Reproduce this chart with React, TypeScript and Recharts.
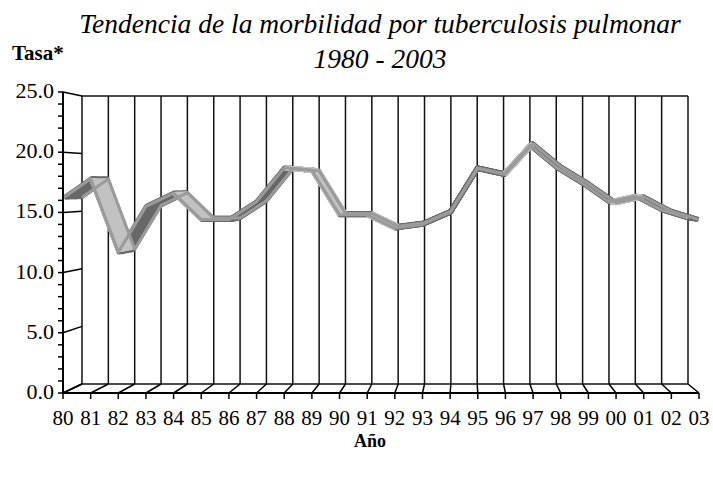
import { CartesianGrid, Line, LineChart, XAxis, YAxis } from "recharts";

const years = ["80", "81", "82", "83", "84", "85", "86", "87", "88", "89", "90", "91", "92", "93", "94", "95", "96", "97", "98", "99", "00", "01", "02", "03"];
const tasa = [16.2, 17.8, 11.7, 15.5, 16.6, 14.4, 14.4, 15.9, 18.7, 18.5, 14.8, 14.8, 13.7, 14.0, 15.0, 18.7, 18.2, 20.7, 18.8, 17.4, 15.8, 16.3, 15.1, 14.4];
const yTicks = [0, 1, 2, 3, 4, 5, 6, 7, 8, 9, 10, 11, 12, 13, 14, 15, 16, 17, 18, 19, 20, 21, 22, 23, 24, 25];
const yMajor = [0, 5, 10, 15, 20, 25];

const W = 713;
const H = 480;
// front plane (axes) and back wall of the 3d box
const FRONT = { left: 63, right: 699, top: 92, bottom: 393 };
const BACK = { left: 82, right: 688, top: 96, bottom: 384 };
const YW = 60;
const XH = 40;
const FONT = '"Liberation Serif", "Times New Roman", serif';
const EDGE = "#9a9a9a";
const DARK = "#686868";
const LIGHT = "#c2c2c2";
const faceDepths = [0.92, 0.84, 0.76, 0.68, 0.6, 0.52, 0.44, 0.36, 0.28, 0.2, 0.12, 0.04];

const lerpBox = (t: number) => ({
  left: FRONT.left + (BACK.left - FRONT.left) * t,
  right: FRONT.right + (BACK.right - FRONT.right) * t,
  top: FRONT.top + (BACK.top - FRONT.top) * t,
  bottom: FRONT.bottom + (BACK.bottom - FRONT.bottom) * t,
});
const toBackX = (x: number) =>
  BACK.left + ((x - FRONT.left) * (BACK.right - BACK.left)) / (FRONT.right - FRONT.left);
const toBackY = (y: number) =>
  BACK.top + ((y - FRONT.top) * (BACK.bottom - BACK.top)) / (FRONT.bottom - FRONT.top);

// rows, plus masked copies of the values for the ribbon faces that show their light side
const n = years.length;
const data: Record<string, string | number | null>[] = years.map((year, i) => ({
  year,
  tasa: tasa[i],
  light0: null,
  light1: null,
  light2: null,
}));
for (let i = 0; i < n - 1; i++) {
  const shift =
    BACK.left - FRONT.left +
    ((i + 0.5) / (n - 1)) * (BACK.right - BACK.left - (FRONT.right - FRONT.left));
  const falling = tasa[i + 1] < tasa[i];
  if (falling === shift > 0) {
    const key = "light" + (i % 3);
    data[i][key] = tasa[i];
    data[i + 1][key] = tasa[i + 1];
  }
}

function XTick({ x, payload }: any) {
  const y0 = FRONT.bottom;
  return (
    <g>
      <line x1={x} y1={y0} x2={toBackX(x)} y2={BACK.bottom} stroke="#000" strokeWidth={1.5} />
      <line x1={x} y1={y0} x2={x} y2={y0 + 6} stroke="#000" strokeWidth={1.5} />
      <text x={x} y={425} textAnchor="middle" fontFamily={FONT} fontSize={21} fill="#000">
        {payload.value}
      </text>
    </g>
  );
}

function YTick({ y, payload }: any) {
  const v = payload.value;
  const major = yMajor.includes(v);
  const x0 = FRONT.left;
  return (
    <g>
      <line x1={x0 - 5} y1={y} x2={x0} y2={y} stroke="#000" strokeWidth={1.5} />
      {major && <line x1={x0} y1={y} x2={BACK.left} y2={toBackY(y)} stroke="#000" strokeWidth={1.5} />}
      {major && (
        <text x={x0 - 9} y={y} dy={6} textAnchor="end" fontFamily={FONT} fontSize={22} fill="#000">
          {v.toFixed(1)}
        </text>
      )}
    </g>
  );
}

const layerStyle = { position: "absolute" as const, left: 0, top: 0 };

function boxMargin(t: number) {
  const b = lerpBox(t);
  return { left: b.left, right: W - b.right, top: b.top, bottom: H - b.bottom };
}

function faceLayer(t: number, keys: string[], color: string) {
  return (
    <div key={color + t} style={layerStyle}>
      <LineChart width={W} height={H} data={data} margin={boxMargin(t)}>
        <XAxis dataKey="year" hide interval={0} />
        <YAxis domain={[0, 25]} hide />
        {keys.map((k) => (
          <Line
            key={k}
            dataKey={k}
            stroke={color}
            strokeWidth={5}
            strokeLinejoin="round"
            dot={false}
            activeDot={false}
            isAnimationActive={false}
          />
        ))}
      </LineChart>
    </div>
  );
}

export default function App() {
  return (
    <div style={{ position: "absolute", left: 0, top: 0, width: W, height: H, background: "#fff", fontFamily: FONT }}>
      {/* back wall */}
      <div style={layerStyle}>
        <LineChart width={W} height={H} data={data} margin={boxMargin(1)}>
          <CartesianGrid stroke="#111" strokeWidth={1.5} />
          <XAxis dataKey="year" hide interval={0} />
          <YAxis domain={[0, 25]} ticks={yMajor} hide />
        </LineChart>
      </div>

      {/* ribbon faces: dark side first, then light side on top */}
      {faceDepths.map((t) => faceLayer(t, ["tasa"], DARK))}
      {faceDepths.map((t) => faceLayer(t, ["light0", "light1", "light2"], LIGHT))}

      {/* back edge of the ribbon */}
      <div style={layerStyle}>
        <LineChart width={W} height={H} data={data} margin={boxMargin(1)}>
          <XAxis dataKey="year" hide interval={0} />
          <YAxis domain={[0, 25]} hide />
          <Line dataKey="tasa" stroke={EDGE} strokeWidth={3} strokeLinejoin="round" dot={false} activeDot={false} isAnimationActive={false} />
        </LineChart>
      </div>

      {/* front plane with axes */}
      <div style={layerStyle}>
        <LineChart
          width={W}
          height={H}
          data={data}
          margin={{ left: FRONT.left - YW, right: W - FRONT.right, top: FRONT.top, bottom: H - FRONT.bottom - XH }}
        >
          <XAxis
            dataKey="year"
            interval={0}
            height={XH}
            tickLine={false}
            axisLine={{ stroke: "#000", strokeWidth: 2 }}
            tick={(p: any) => <XTick {...p} />}
          />
          <YAxis
            domain={[0, 25]}
            ticks={yTicks}
            interval={0}
            width={YW}
            tickLine={false}
            axisLine={{ stroke: "#000", strokeWidth: 2 }}
            tick={(p: any) => <YTick {...p} />}
          />
          <Line dataKey="tasa" stroke={EDGE} strokeWidth={3} strokeLinejoin="round" dot={false} activeDot={false} isAnimationActive={false} />
        </LineChart>
      </div>

      <div style={{ position: "absolute", left: 0, top: 10, width: 760, textAlign: "center", fontStyle: "italic", fontSize: 27.5, lineHeight: "28px" }}>
        Tendencia de la morbilidad por tuberculosis pulmonar
      </div>
      <div style={{ position: "absolute", left: 0, top: 45, width: 760, textAlign: "center", fontStyle: "italic", fontSize: 27.5, lineHeight: "28px" }}>
        1980 - 2003
      </div>
      <div style={{ position: "absolute", left: 12, top: 43, fontWeight: "bold", fontSize: 21, lineHeight: "21px" }}>Tasa*</div>
      <div style={{ position: "absolute", left: 0, top: 432, width: 740, textAlign: "center", fontWeight: "bold", fontSize: 18, lineHeight: "18px" }}>
        Año
      </div>
    </div>
  );
}
